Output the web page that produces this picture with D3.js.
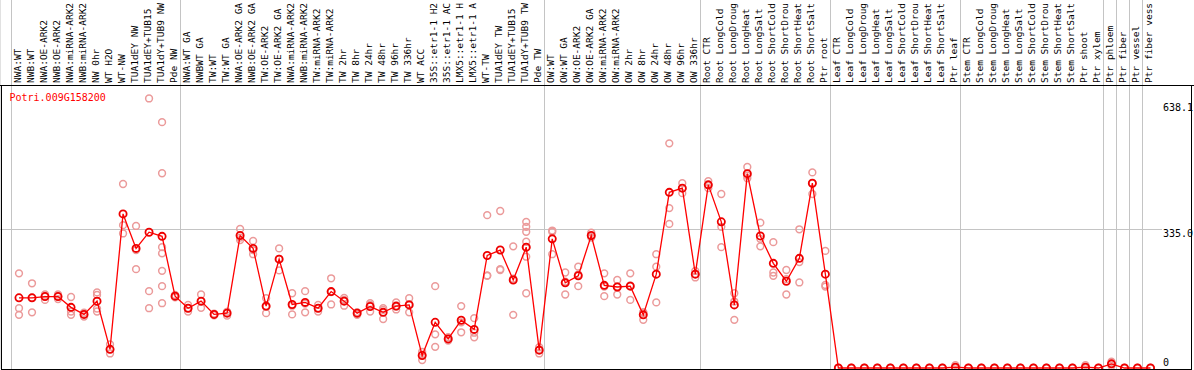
<!DOCTYPE html>
<html>
<head>
<meta charset="utf-8">
<script src="https://cdn.jsdelivr.net/npm/d3@7"></script>
<style>
  body { margin: 0; background: #fff; }
  #chart { width: 1194px; height: 370px; }
</style>
</head>
<body>
<div id="chart"></div>
<script>
const geneId = 'Potri.009G158200';

// sample labels (cut to 14 characters like in the original)
const samples = [
  'NWA:WT', 'NWB:WT', 'NWA:OE-ARK2', 'NWB:OE-ARK2', 'NWA:miRNA-ARK2', 'NWB:miRNA-ARK2', 'NW 0hr',
  'WT H2O', 'WT-NW', 'TUA1dEY NW', 'TUA1dEY+TUB15', 'TUA1dY+TUB9 NW', 'Pde NW',
  'NWA:WT GA', 'NWBWT GA', 'TW:WT', 'TW:WT GA', 'NWA:OE-ARK2 GA', 'NWB:OE-ARK2 GA', 'TW:OE-ARK2',
  'TW:OE-ARK2 GA', 'NWA:miRNA-ARK2', 'NWB:miRNA-ARK2', 'TW:miRNA-ARK2', 'TW:miRNA-ARK2',
  'TW 2hr', 'TW 8hr', 'TW 24hr', 'TW 48hr', 'TW 96hr', 'TW 336hr', 'WT ACC',
  '35S::etr1-1 H2', '35S::etr1-1 AC', 'LMX5::etr1-1 H', 'LMX5::etr1-1 A', 'WT-TW',
  'TUA1dEY TW', 'TUA1dEY+TUB15', 'TUA1dY+TUB9 TW', 'Pde TW',
  'OW:WT', 'OW:WT GA', 'OW:OE-ARK2', 'OW:OE-ARK2 GA', 'OW:miRNA-ARK2', 'OW:miRNA-ARK2',
  'OW 2hr', 'OW 8hr', 'OW 24hr', 'OW 48hr', 'OW 96hr', 'OW 336hr',
  'Root CTR', 'Root LongCold', 'Root LongDroug', 'Root LongHeat', 'Root LongSalt',
  'Root ShortCold', 'Root ShortDrou', 'Root ShortHeat', 'Root ShortSalt', 'Ptr root',
  'Leaf CTR', 'Leaf LongCold', 'Leaf LongDroug', 'Leaf LongHeat', 'Leaf LongSalt',
  'Leaf ShortCold', 'Leaf ShortDrou', 'Leaf ShortHeat', 'Leaf ShortSalt', 'Ptr leaf',
  'Stem CTR', 'Stem LongCold', 'Stem LongDroug', 'Stem LongHeat', 'Stem LongSalt',
  'Stem ShortCold', 'Stem ShortDrou', 'Stem ShortHeat', 'Stem ShortSalt',
  'Ptr shoot', 'Ptr xylem', 'Ptr phloem', 'Ptr fiber', 'Ptr vessel', 'Ptr fiber vess'
];

// index of the first sample of each experiment block
const groupStarts = [0, 13, 41, 53, 63, 73, 84, 85, 86, 87, 88];

const means = [
  169, 169, 172, 172, 146, 129, 161, 45, 371, 288, 327, 317, 173,
  144, 161, 129, 132, 319, 288, 149, 262, 153, 158, 144, 184, 161, 132, 148, 134, 149, 152,
  30, 110, 70, 115, 93, 271, 284, 212, 291, 43,
  311, 205, 222, 319, 199, 195, 197, 128, 226, 423, 433, 226,
  441, 352, 152, 468, 318, 252, 209, 264, 445, 226,
  0, 0, 0, 0, 0, 0, 0, 0, 0, 2,
  0, 0, 0, 0, 0, 0, 0, 0, 0,
  2, 0, 10, 0, 0, 0
];

const replicates = [
  [228, 144, 128], [204, 134, 169], [177, 164, 172], [177, 166, 172], [171, 136, 128],
  [133, 124, 129], [182, 176, 143, 136], [57, 35, 45], [443, 344, 324], [342, 284, 238],
  [649, 185, 144], [592, 469, 291, 276, 234, 197, 156], [176, 170, 173],
  [152, 136, 144], [177, 145, 161], [131, 127, 129], [135, 126, 135], [335, 308, 314],
  [306, 274, 284], [168, 132, 147], [288, 235, 263], [180, 129, 150], [185, 134, 155],
  [152, 136, 144], [216, 153, 183], [169, 150, 164], [134, 128, 134], [156, 136, 152],
  [144, 118, 140], [158, 141, 148], [168, 134, 154], [39, 19, 32], [197, 81, 51],
  [74, 66, 70], [149, 86, 110], [120, 74, 85], [368, 223, 222], [378, 238, 236],
  [293, 128, 215], [352, 340, 328, 304, 268, 180, 290], [35, 50, 44],
  [328, 274, 331], [230, 177, 208], [244, 197, 225], [326, 314, 317], [228, 173, 196],
  [212, 177, 196], [228, 164, 199], [116, 134, 134], [274, 244, 158], [541, 385, 347],
  [445, 421, 433], [234, 218, 226],
  [450, 433, 440], [419, 340, 291], [180, 116, 160], [484, 457, 463], [350, 293, 311],
  [303, 230, 222], [236, 177, 214], [334, 255, 206], [471, 419, 445], [282, 200, 196],
  [0, 0, 0], [0, 0, 0], [0, 0, 0], [0, 0, 0], [0, 0, 0],
  [0, 0, 0], [0, 0, 0], [0, 0, 0], [0, 0, 0], [7, 0, 0],
  [0, 0, 0], [0, 0, 0], [0, 0, 0], [0, 0, 0], [0, 0, 0],
  [0, 0, 0], [0, 0, 0], [0, 0, 0], [0, 0, 0],
  [7, 0, 0], [0, 0, 0], [15, 5, 10], [0, 0, 0], [0, 0, 0], [0, 0, 0]
];

const yTicks = [638.1, 335.0, 0];
const yTickLabels = ['638.1', '335.0', '0'];
const yGrid = [335.0];

const width = 1194, height = 370;
const plotTop = 85, plotBottom = 369, plotLeft = 1, plotRight = 1191;

const svg = d3.select('#chart').append('svg')
  .attr('width', width)
  .attr('height', height)
  .style('font-family', '"DejaVu Sans Mono", monospace');

const x = d3.scaleBand()
  .domain(d3.range(samples.length))
  .range([10.5, 1155]);
const cx = i => x(i) + 8.5;

const y = d3.scaleLinear()
  .domain([0, 638.1])
  .range([368, 103]);

svg.append('defs').append('clipPath')
  .attr('id', 'plot-clip')
  .append('rect')
  .attr('x', plotLeft)
  .attr('y', plotTop)
  .attr('width', plotRight - plotLeft)
  .attr('height', plotBottom - plotTop);

// vertical block separators run through the label area too
svg.selectAll('.vgrid')
  .data(groupStarts)
  .join('line')
  .attr('class', 'vgrid')
  .attr('x1', d => Math.round(x(d)) + 0.5)
  .attr('x2', d => Math.round(x(d)) + 0.5)
  .attr('y1', 0)
  .attr('y2', plotBottom)
  .attr('stroke', '#c4c4c4')
  .attr('stroke-width', 1);

svg.selectAll('.hgrid')
  .data(yGrid)
  .join('line')
  .attr('class', 'hgrid')
  .attr('x1', 0)
  .attr('x2', 1162)
  .attr('y1', d => Math.round(y(d)) + 0.5)
  .attr('y2', d => Math.round(y(d)) + 0.5)
  .attr('stroke', '#c4c4c4');

// sample labels, rotated
svg.selectAll('.sample-label')
  .data(samples)
  .join('text')
  .attr('class', 'sample-label')
  .attr('transform', (d, i) => `translate(${cx(i) + 1.5},83) rotate(-90)`)
  .attr('text-anchor', 'start')
  .style('font-size', '9.5px')
  .style('fill', '#000')
  .text(d => d);

// frame
const frame = svg.append('g').attr('stroke', '#000').attr('stroke-width', 1);
frame.append('line').attr('x1', 0).attr('x2', width).attr('y1', plotTop + 0.5).attr('y2', plotTop + 0.5);
frame.append('line').attr('x1', plotLeft + 0.5).attr('x2', plotLeft + 0.5).attr('y1', plotTop).attr('y2', plotBottom + 1);
frame.append('line').attr('x1', plotRight + 0.5).attr('x2', plotRight + 0.5).attr('y1', plotTop).attr('y2', plotBottom + 1);
frame.append('line').attr('x1', plotLeft).attr('x2', plotRight + 1).attr('y1', plotBottom + 0.5).attr('y2', plotBottom + 0.5);

// right side value labels
svg.selectAll('.y-label')
  .data(yTicks)
  .join('text')
  .attr('class', 'y-label')
  .attr('x', 1163)
  .attr('y', d => Math.min(y(d) + 8, 366))
  .style('font-size', '10px')
  .style('fill', '#000')
  .text((d, i) => yTickLabels[i]);

svg.append('text')
  .attr('x', 9.5)
  .attr('y', 101)
  .style('font-size', '10px')
  .style('fill', '#ff0000')
  .text(geneId);

const plot = svg.append('g').attr('clip-path', 'url(#plot-clip)');

const repPoints = replicates.flatMap((reps, i) => reps.map(v => ({i, v})));

plot.selectAll('.rep')
  .data(repPoints)
  .join('circle')
  .attr('class', 'rep')
  .attr('cx', d => cx(d.i))
  .attr('cy', d => y(d.v))
  .attr('r', 3.4)
  .attr('fill', 'none')
  .attr('stroke', '#eb9a9a')
  .attr('stroke-width', 1.5);

const line = d3.line()
  .x((d, i) => cx(i))
  .y(d => y(d));

plot.append('path')
  .datum(means)
  .attr('d', line)
  .attr('fill', 'none')
  .attr('stroke', '#ff0000')
  .attr('stroke-width', 1.3);

plot.selectAll('.mean')
  .data(means)
  .join('circle')
  .attr('class', 'mean')
  .attr('cx', (d, i) => cx(i))
  .attr('cy', d => y(d))
  .attr('r', 3.6)
  .attr('fill', 'none')
  .attr('stroke', '#ee0000')
  .attr('stroke-width', 1.8);
</script>
</body>
</html>
